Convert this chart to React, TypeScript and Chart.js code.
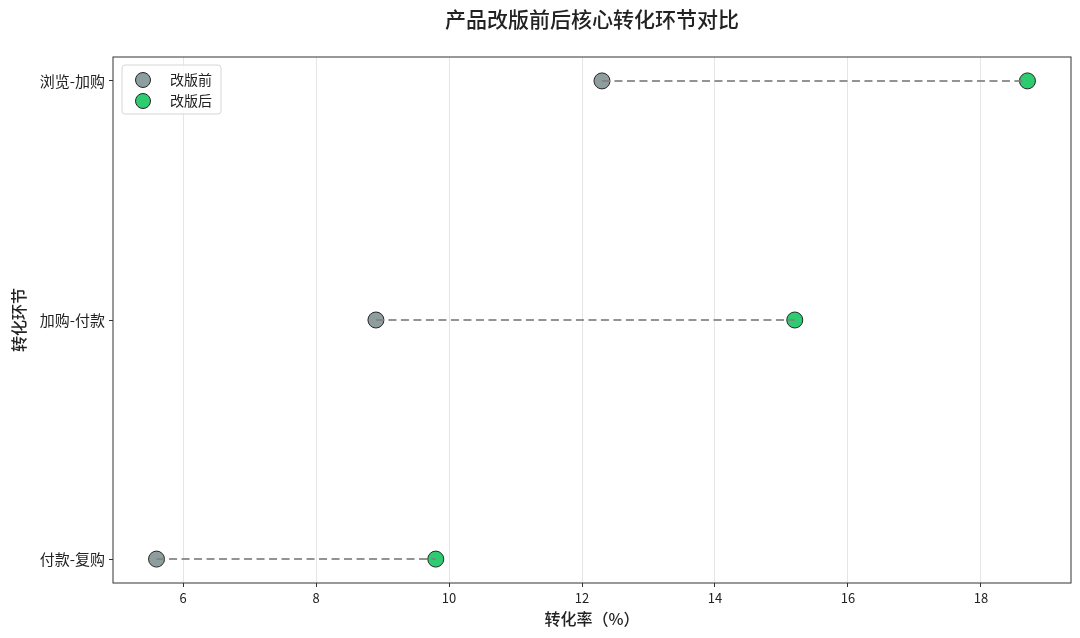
import { useEffect, useRef } from 'react';
import { Chart, registerables, Plugin } from 'chart.js';

Chart.register(...registerables);

// top to bottom
const stages = ['浏览-加购', '加购-付款', '付款-复购'];
const beforeRate = [12.3, 8.9, 5.6];
const afterRate = [18.7, 15.2, 9.8];
const xTicks = [6, 8, 10, 12, 14, 16, 18];
const seriesNames = ['改版前', '改版后'];
const chartTitle = '产品改版前后核心转化环节对比';

const BEFORE_COLOR = '#8e9e9f';
const AFTER_COLOR = '#2ecc71';
const EDGE = '#262626';
const FONT = "'Noto Sans CJK SC', 'DejaVu Sans', sans-serif";

// axes box like matplotlib spines
const spines: Plugin = {
  id: 'spines',
  afterDraw(chart) {
    const { ctx, chartArea: a } = chart;
    ctx.save();
    ctx.strokeStyle = '#333';
    ctx.lineWidth = 1;
    ctx.strokeRect(a.left, a.top, a.right - a.left, a.bottom - a.top);
    ctx.restore();
  },
};

// title centred over the plot area, not the canvas
const axesTitle: Plugin = {
  id: 'axesTitle',
  afterDraw(chart) {
    const { ctx, chartArea: a } = chart;
    ctx.save();
    ctx.fillStyle = '#222';
    ctx.font = `500 21px ${FONT}`;
    ctx.textAlign = 'center';
    ctx.textBaseline = 'middle';
    ctx.fillText(chartTitle, (a.left + a.right) / 2, 19);
    ctx.restore();
  },
};

// legend inside the plot, upper left
const innerLegend: Plugin = {
  id: 'innerLegend',
  afterDraw(chart) {
    const { ctx, chartArea: a } = chart;
    const x = a.left + 9;
    const y = a.top + 8;
    ctx.save();
    ctx.beginPath();
    ctx.roundRect(x, y, 99, 49, 3);
    ctx.fillStyle = 'rgba(255,255,255,0.8)';
    ctx.fill();
    ctx.strokeStyle = '#d6d6d6';
    ctx.lineWidth = 1;
    ctx.stroke();
    const colors = [BEFORE_COLOR, AFTER_COLOR];
    seriesNames.forEach((name, i) => {
      const cy = y + 15 + i * 21;
      ctx.beginPath();
      ctx.arc(x + 21, cy, 7.5, 0, Math.PI * 2);
      ctx.fillStyle = colors[i];
      ctx.fill();
      ctx.strokeStyle = EDGE;
      ctx.stroke();
      ctx.fillStyle = '#222';
      ctx.font = `14px ${FONT}`;
      ctx.textBaseline = 'middle';
      ctx.fillText(name, x + 48, cy);
    });
    ctx.restore();
  },
};

export default function App() {
  const canvasRef = useRef<HTMLCanvasElement>(null);
  const chartRef = useRef<Chart | null>(null);

  useEffect(() => {
    document.body.style.margin = '0';
    if (!canvasRef.current) return;
    if (chartRef.current) chartRef.current.destroy();

    const connectors = stages.map((_, i) => ({
      label: 'line' + i,
      data: [
        { x: beforeRate[i], y: i },
        { x: afterRate[i], y: i },
      ],
      showLine: true,
      borderColor: 'rgba(128,128,128,0.85)',
      borderWidth: 2,
      borderDash: [8, 4.5],
      pointRadius: 0,
      order: 0,
    }));

    chartRef.current = new Chart(canvasRef.current, {
      type: 'scatter',
      data: {
        datasets: [
          ...connectors,
          {
            label: seriesNames[0],
            data: beforeRate.map((v, i) => ({ x: v, y: i })),
            pointRadius: 8,
            pointBackgroundColor: BEFORE_COLOR,
            pointBorderColor: EDGE,
            pointBorderWidth: 1,
            order: 1,
          },
          {
            label: seriesNames[1],
            data: afterRate.map((v, i) => ({ x: v, y: i })),
            pointRadius: 8,
            pointBackgroundColor: AFTER_COLOR,
            pointBorderColor: EDGE,
            pointBorderWidth: 1,
            order: 1,
          },
        ],
      },
      options: {
        animation: false,
        responsive: false,
        layout: { padding: { left: 0, right: 7, top: 57, bottom: 0 } },
        plugins: {
          legend: { display: false },
          tooltip: { enabled: false },
          title: { display: false },
        },
        scales: {
          x: {
            type: 'linear',
            min: 4.945,
            max: 19.355,
            afterBuildTicks: (s) => {
              s.ticks = xTicks.map((v) => ({ value: v }));
            },
            afterFit: (s) => {
              s.height = 55;
            },
            ticks: { color: '#222', font: { family: FONT, size: 13 }, padding: 3 },
            grid: { color: 'rgba(0,0,0,0.1)', tickColor: '#333', tickLength: 4 },
            border: { display: false },
            title: {
              display: true,
              text: '转化率（%）',
              color: '#222',
              font: { family: FONT, size: 16, weight: 500 },
              padding: { top: 0, bottom: 9 },
            },
          },
          y: {
            type: 'linear',
            reverse: true,
            min: -0.1,
            max: 2.1,
            afterBuildTicks: (s) => {
              s.ticks = stages.map((_, i) => ({ value: i }));
            },
            afterFit: (s) => {
              s.width = 113;
            },
            ticks: {
              color: '#222',
              font: { family: FONT, size: 15 },
              padding: 4,
              callback: (v) => stages[Number(v)] ?? '',
            },
            grid: { drawOnChartArea: false, tickColor: '#333', tickLength: 4 },
            border: { display: false },
            title: {
              display: true,
              text: '转化环节',
              color: '#222',
              font: { family: FONT, size: 16, weight: 500 },
              padding: { top: 9, bottom: 0 },
            },
          },
        },
      },
      plugins: [spines, axesTitle, innerLegend],
    });

    return () => {
      if (chartRef.current) {
        chartRef.current.destroy();
        chartRef.current = null;
      }
    };
  }, []);

  return (
    <div style={{ position: 'absolute', left: 0, top: 0, width: 1080, height: 638, background: '#fff' }}>
      <canvas ref={canvasRef} width={1080} height={638}></canvas>
    </div>
  );
}
